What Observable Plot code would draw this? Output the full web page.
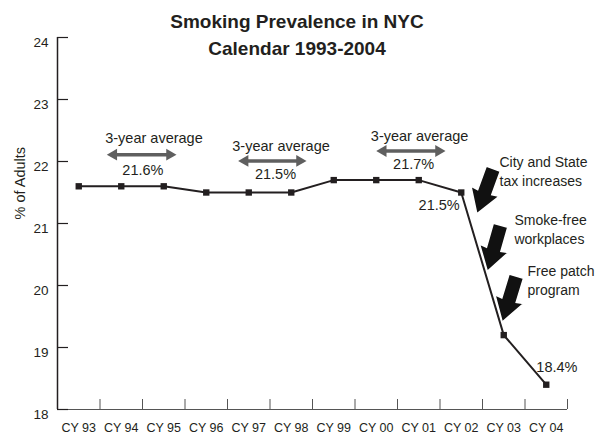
<!DOCTYPE html>
<html><head><meta charset="utf-8">
<script src="https://cdn.jsdelivr.net/npm/d3@7"></script>
<script src="https://cdn.jsdelivr.net/npm/@observablehq/plot@0.6"></script>
<style>body{margin:0;background:#fff}</style>
</head><body><div id="chart"></div>
<script>
// ---- data ----
const years = [1993,1994,1995,1996,1997,1998,1999,2000,2001,2002,2003,2004];
const xTickLabels = ["CY 93","CY 94","CY 95","CY 96","CY 97","CY 98","CY 99","CY 00","CY 01","CY 02","CY 03","CY 04"];
const prevalence = [21.6,21.6,21.6,21.5,21.5,21.5,21.7,21.7,21.7,21.5,19.2,18.4];
const yTicks = [18,19,20,21,22,23,24];
const titleLines = ["Smoking Prevalence in NYC","Calendar 1993-2004"];
const yLabel = "% of Adults";

// 3-year average annotations
const avgText = "3-year average";
const avgLabels = ["21.6%","21.5%","21.7%"];
const avgTextX = [1994.77,1997.76,2001.02];
const avgTextY = [22.37,22.25,22.41];
const avgArrowX1 = [1993.68,1996.77,2000.02];
const avgArrowX2 = [1995.28,1998.34,2001.61];
const avgArrowY = [22.11,22.01,22.17];
const avgValueX = [1994.51,1997.63,2000.88];
const avgValueY = [21.86,21.79,21.95];

// policy callouts
const calloutText = ["City and State\ntax increases","Smoke-free\nworkplaces","Free patch\nprogram"];
const calloutX = [2002.9,2003.25,2003.56];
const calloutY = [21.86,20.92,20.10];
const calloutArrowX = [2002.56,2002.77,2003.13];
const calloutArrowY = [21.52,20.60,19.78];
const calloutArrowAngle = [20,16,17];

// point labels
const pointLabels = ["21.5%","18.4%"];
const pointLabelX = [2001.48,2004.25];
const pointLabelY = [21.29,18.68];

// ---- build ----
const data = years.map((y,i)=>({year:y, value:prevalence[i]}));
const boundaries = years.map(y=>y+0.5);
const idx3 = [0,1,2];
const ink = "#231f20";
const gray = "#5f5f5f";
const sans = "'Liberation Sans', Arial, Helvetica, sans-serif";

const blockArrow = {
  draw(ctx, size) {
    const r = Math.sqrt(size/Math.PI), k = r/24;
    const pts = [[-7.5,-24],[7.5,-24],[7.5,1],[15,0],[0,24],[-15,0],[-7.5,1]];
    ctx.moveTo(pts[0][0]*k, pts[0][1]*k);
    for (const p of pts.slice(1)) ctx.lineTo(p[0]*k, p[1]*k);
    ctx.closePath();
  }
};

const chart = Plot.plot({
  width: 596, height: 441,
  marginLeft: 57, marginRight: 29, marginTop: 37, marginBottom: 32,
  x: {type: "linear", domain: [years[0]-0.5, years[years.length-1]+0.5]},
  y: {domain: [yTicks[0], yTicks[yTicks.length-1]]},
  style: {fontFamily: sans, color: ink, background: "white"},
  marks: [
    // axes
    Plot.ruleY([yTicks[0]], {stroke: "#555", strokeWidth: 1}),
    Plot.ruleX(boundaries, {x: d=>d, stroke: "#555", strokeWidth: 1, insetTop: 362}),
    Plot.ruleX([years[0]-0.5], {stroke: ink, strokeWidth: 1.5}),
    Plot.ruleY(yTicks, {y: d=>d, stroke: ink, strokeWidth: 1.2, insetRight: 499}),
    Plot.axisY(yTicks, {tickSize: 0, tickPadding: 9, dy: 5, fontSize: 13.5, label: null, tickFormat: d => String(d)}),
    Plot.axisX(years, {tickSize: 0, tickPadding: 14, fontSize: 12.5, label: null,
      tickFormat: d => xTickLabels[years.indexOf(d)]}),
    Plot.text([yLabel], {frameAnchor: "left", rotate: -90, dx: -37, dy: -4, fontSize: 14.5}),
    Plot.text([titleLines.join("\n")], {frameAnchor: "top", dx: -15.5, dy: -4.5, lineAnchor: "middle",
      lineHeight: 1.4, fontSize: 19, fontWeight: "bold"}),
    // data
    Plot.line(data, {x: "year", y: "value", stroke: ink, strokeWidth: 2}),
    Plot.dot(data, {x: "year", y: "value", symbol: "square", r: 3.6, fill: ink}),
    // 3-year averages
    Plot.text(idx3, {x: i=>avgTextX[i], y: i=>avgTextY[i], text: ()=>avgText, fontSize: 14.5}),
    Plot.ruleY(idx3, {y: i=>avgArrowY[i], x1: i=>avgArrowX1[i], x2: i=>avgArrowX2[i], stroke: gray, strokeWidth: 3.5, insetLeft: 6, insetRight: 6}),
    Plot.dot(idx3, {x: i=>avgArrowX2[i], y: i=>avgArrowY[i], symbol: "triangle", rotate: 90, r: 4.4, fill: gray, dx: -6}),
    Plot.dot(idx3, {x: i=>avgArrowX1[i], y: i=>avgArrowY[i], symbol: "triangle", rotate: -90, r: 4.4, fill: gray, dx: 6}),
    Plot.text(idx3, {x: i=>avgValueX[i], y: i=>avgValueY[i], text: i=>avgLabels[i], fontSize: 14.5}),
    // callouts
    Plot.dot(idx3, {x: i=>calloutArrowX[i], y: i=>calloutArrowY[i], symbol: blockArrow, r: 24,
      rotate: i=>calloutArrowAngle[i], fill: "#111", stroke: "white", strokeWidth: 1.5}),
    Plot.text(idx3, {x: i=>calloutX[i], y: i=>calloutY[i], text: i=>calloutText[i], textAnchor: "start",
      lineHeight: 1.35, fontSize: 14}),
    // point labels
    Plot.text([0,1], {x: i=>pointLabelX[i], y: i=>pointLabelY[i], text: i=>pointLabels[i], fontSize: 14.5})
  ]
});
document.getElementById("chart").appendChild(chart);
</script></body></html>
